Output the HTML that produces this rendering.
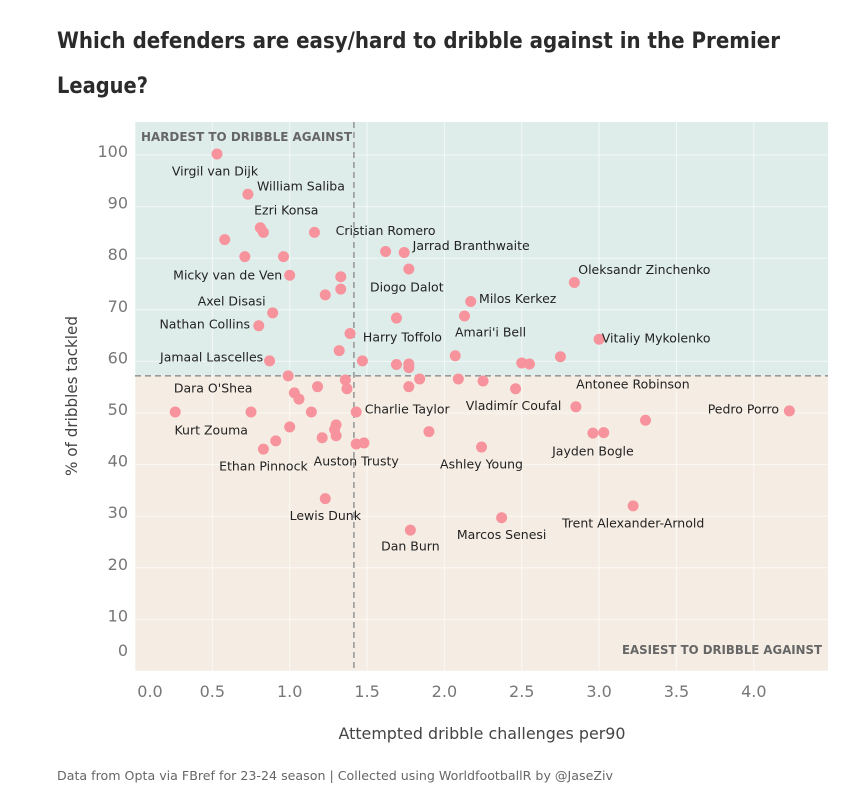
<!DOCTYPE html>
<html><head><meta charset="utf-8"><style>
html,body{margin:0;padding:0;background:#fff;}
svg{display:block;font-family:"DejaVu Sans","Liberation Sans",sans-serif;}
</style></head><body>
<svg id="chart" width="851" height="801" viewBox="0 0 851 801" xmlns="http://www.w3.org/2000/svg">
<text x="57" y="48" font-size="22" font-weight="bold" fill="#2b2b2b" textLength="723" lengthAdjust="spacingAndGlyphs">Which defenders are easy/hard to dribble against in the Premier</text>
<text x="57" y="93" font-size="22" font-weight="bold" fill="#2b2b2b" textLength="91" lengthAdjust="spacingAndGlyphs">League?</text>
<g id="plot"></g>
<text x="482" y="739" font-size="16" fill="#444" text-anchor="middle" textLength="287" lengthAdjust="spacingAndGlyphs">Attempted dribble challenges per90</text>
<text transform="translate(77,396) rotate(-90)" font-size="16" fill="#444" text-anchor="middle" textLength="160" lengthAdjust="spacingAndGlyphs">% of dribbles tackled</text>
<text x="57" y="780" font-size="12" fill="#666" textLength="556" lengthAdjust="spacingAndGlyphs">Data from Opta via FBref for 23-24 season | Collected using WorldfootballR by @JaseZiv</text>
</svg>
<script>
const xVals=[0.53,0.73,0.81,0.83,0.58,1.16,0.71,0.96,1.00,1.33,1.33,1.23,0.89,0.80,1.39,1.32,0.87,0.99,1.36,1.62,1.74,1.77,2.84,2.17,2.13,1.69,3.00,2.07,2.75,2.50,2.55,1.47,1.69,1.77,1.77,1.84,2.09,2.25,1.77,2.46,1.37,1.18,1.03,1.06,0.26,0.75,1.14,1.43,1.00,1.30,1.29,1.30,1.21,0.91,0.83,1.43,1.48,1.90,2.24,1.23,1.78,2.85,3.30,2.96,3.03,3.22,2.37,4.23];
const yVals=[100.2,92.4,85.9,85.0,83.6,85.0,80.3,80.3,76.7,76.4,74.0,72.9,69.4,66.9,65.4,62.1,60.1,57.2,56.4,81.3,81.1,77.9,75.3,71.6,68.8,68.4,64.3,61.1,60.9,59.7,59.5,60.1,59.4,59.5,58.8,56.6,56.6,56.2,55.1,54.7,54.7,55.1,53.9,52.7,50.2,50.2,50.2,50.2,47.3,47.7,46.8,45.6,45.2,44.6,43.0,44.0,44.2,46.4,43.4,33.4,27.3,51.2,48.6,46.1,46.2,32.0,29.7,50.4];
const labelNames=["Virgil van Dijk","William Saliba","Ezri Konsa","Cristian Romero","Jarrad Branthwaite","Oleksandr Zinchenko","Micky van de Ven","Diogo Dalot","Milos Kerkez","Axel Disasi","Nathan Collins","Harry Toffolo","Amari'i Bell","Vitaliy Mykolenko","Jamaal Lascelles","Antonee Robinson","Dara O'Shea","Charlie Taylor","Vladimír Coufal","Pedro Porro","Kurt Zouma","Ethan Pinnock","Auston Trusty","Ashley Young","Jayden Bogle","Lewis Dunk","Trent Alexander-Arnold","Marcos Senesi","Dan Burn"];
const labelPoint=[0,1,2,19,20,22,8,21,23,12,13,25,24,26,16,61,17,47,39,67,44,54,55,58,63,59,65,66,60];
const labelDx=[-2,53,26,0,67,70,-62,-2,47,-41,-54,6,26,57,-58,57,-75,51,-2,-46,36,0,0,0,0,0,0,0,0];
const labelDy=[17,-8,-18,-21,-7,-13,0,18,-3,-12,-2,19,16,-1,-4,-23,12,-3,17,-2,18,17,17,17,18,17,17,17,16];
const xTicks=[0,0.5,1,1.5,2,2.5,3,3.5,4];
const xTickLabels=["0.0","0.5","1.0","1.5","2.0","2.5","3.0","3.5","4.0"];
const yTicks=[0,10,20,30,40,50,60,70,80,90,100];
const xThreshold=1.415, yThreshold=57.2;
const X0=135,X1=828,Y0=671,Y1=122;
const xs=v=>135+154.7*v;
const ys=v=>671-5.16*v;
const NS="http://www.w3.org/2000/svg";
const g=document.getElementById('plot');
function mk(tag,attrs,parent){const e=document.createElementNS(NS,tag);for(const k in attrs)e.setAttribute(k,attrs[k]);(parent||g).appendChild(e);return e;}
let e;
e=mk('rect',{x:X0,y:Y1,width:X1-X0,height:ys(yThreshold)-Y1,fill:'#dfedea'});


e=mk('rect',{x:X0,y:ys(yThreshold),width:X1-X0,height:Y0-ys(yThreshold),fill:'#f5ede3'});


xTicks.forEach((t,i)=>{
  e=mk('line',{x1:xs(t),x2:xs(t),y1:Y1,y2:Y0,stroke:'#ffffff','stroke-opacity':0.6,'stroke-width':1});
  
  
  e=mk('text',{x:i===0?150:xs(t),y:697,'font-size':16,fill:'#777','text-anchor':'middle'});
  e.textContent=xTickLabels[i];
  
  
});
yTicks.forEach(t=>{
  e=mk('line',{x1:X0,x2:X1,y1:ys(t),y2:ys(t),stroke:'#ffffff','stroke-opacity':0.6,'stroke-width':1});
  
  
  e=mk('text',{x:128,y:(t===0?650:ys(t)-4)+6,'font-size':16,fill:'#777','text-anchor':'end'});
  e.textContent=String(t);
  
  
});
e=mk('line',{x1:xs(xThreshold),x2:xs(xThreshold),y1:Y1,y2:Y0,stroke:'#999','stroke-width':1.6,'stroke-dasharray':'6,4'});


e=mk('line',{x1:X0,x2:X1,y1:ys(yThreshold),y2:ys(yThreshold),stroke:'#999','stroke-width':1.6,'stroke-dasharray':'6,4'});


e=mk('text',{x:141,y:141,'font-size':12.5,'font-weight':'bold',fill:'#666',textLength:211,lengthAdjust:'spacingAndGlyphs'});
e.textContent='HARDEST TO DRIBBLE AGAINST';


e=mk('text',{x:822,y:654,'font-size':12.5,'font-weight':'bold',fill:'#666','text-anchor':'end',textLength:200,lengthAdjust:'spacingAndGlyphs'});
e.textContent='EASIEST TO DRIBBLE AGAINST';


xVals.forEach((v,i)=>{
  e=mk('circle',{cx:xs(v),cy:ys(yVals[i]),r:5.5,fill:'#f7939c'});
  
  
});
labelNames.forEach((n,i)=>{
  const p=labelPoint[i];
  e=mk('text',{x:xs(xVals[p])+labelDx[i],y:ys(yVals[p])+labelDy[i]+4.5,'font-size':12.5,fill:'#222','text-anchor':'middle'});
  e.textContent=n;
  
  
});
</script>
</body></html>
